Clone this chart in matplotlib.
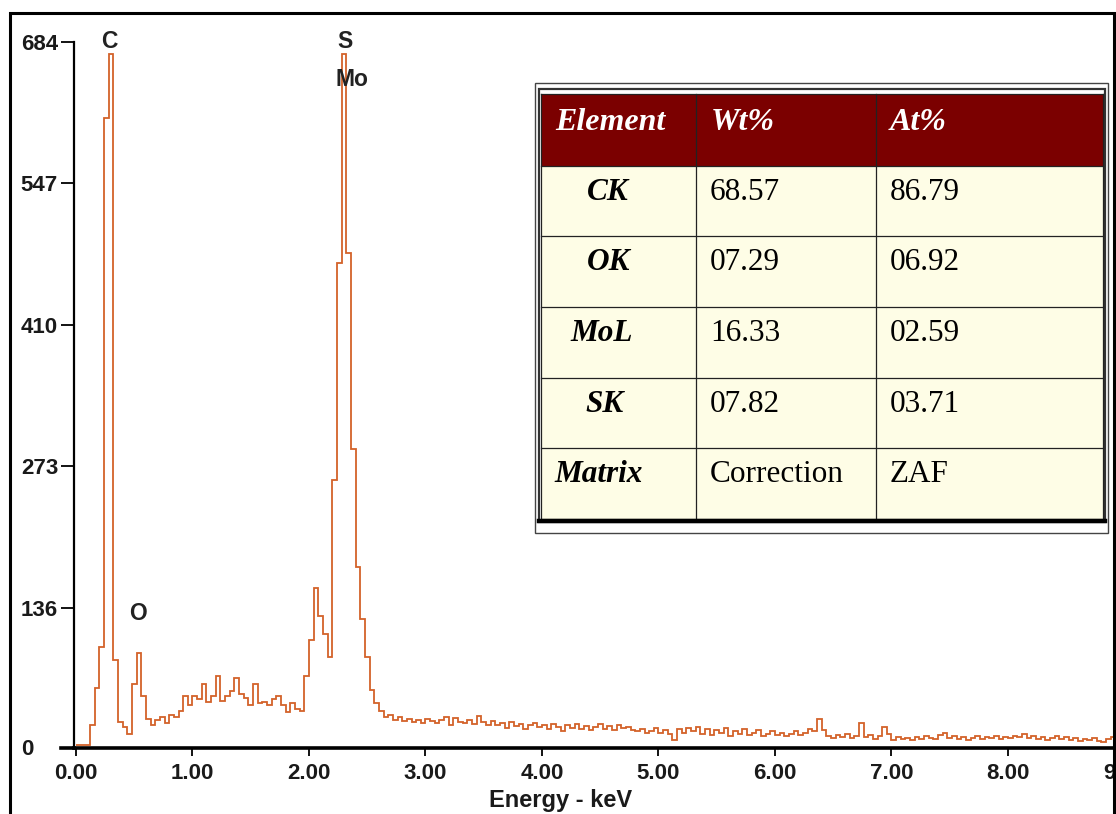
import matplotlib
matplotlib.use("Agg")
from matplotlib import pyplot as plt
from matplotlib.patches import Rectangle
from matplotlib.lines import Line2D
import numpy as np

# EDS spectrum, counts per 0.04 keV channel
channel_kev = 0.04
counts = [
    3, 3, 3, 22, 58, 98, 610, 672, 85, 25,            # 0.00 - 0.36
    20, 14, 62, 92, 50, 28, 22, 27, 30, 24,           # 0.40 - 0.76
    32, 30, 36, 50, 42, 50, 47, 62, 45, 50,           # 0.80 - 1.16
    70, 46, 50, 55, 68, 52, 48, 42, 62, 44,           # 1.20 - 1.56
    45, 42, 47, 50, 42, 35, 44, 38, 36, 70,           # 1.60 - 1.96
    105, 155, 128, 110, 88, 260, 470, 672, 480, 290,  # 2.00 - 2.36
    175, 125, 88, 56, 44, 36, 30, 32, 27, 30,         # 2.40 - 2.76
    26, 28, 25, 27, 24, 28, 26, 24, 27, 30,           # 2.80 - 3.16
    22, 29, 25, 24, 27, 23, 31, 25, 22, 26,           # 3.20 - 3.56
    22, 24, 19, 25, 21, 23, 18, 22, 24, 20,           # 3.60 - 3.96
    22, 18, 23, 20, 16, 22, 19, 23, 18, 21,           # 4.00 - 4.36
    17, 20, 23, 18, 21, 17, 22, 19, 20, 17,           # 4.40 - 4.76
    16, 18, 15, 16, 19, 15, 17, 14, 8, 18,            # 4.80 - 5.16
    15, 19, 16, 20, 14, 18, 13, 17, 15, 19,           # 5.20 - 5.56
    12, 16, 14, 18, 13, 15, 17, 12, 14, 16,           # 5.60 - 5.96
    13, 15, 12, 14, 16, 13, 15, 18, 16, 28,           # 6.00 - 6.36
    17, 12, 10, 13, 11, 14, 10, 12, 24, 11,           # 6.40 - 6.76
    13, 9, 12, 20, 14, 8, 11, 9, 10, 8,               # 6.80 - 7.16
    11, 9, 12, 10, 9, 13, 15, 10, 12, 9,              # 7.20 - 7.56
    11, 8, 10, 12, 9, 11, 10, 12, 9, 11,              # 7.60 - 7.96
    10, 12, 11, 14, 10, 12, 9, 11, 8, 10,             # 8.00 - 8.36
    12, 9, 11, 8, 10, 7, 9, 8, 10, 7,                 # 8.40 - 8.76
    6, 9, 11, 8,                                      # 8.80 - 8.92
]

y_ticks = [136, 273, 410, 547, 684]
x_ticks = [0, 1, 2, 3, 4, 5, 6, 7, 8]

peak_labels = ["C", "O", "S", "Mo"]
peak_kev = [0.29, 0.53, 2.31, 2.37]
peak_y = [684, 130, 684, 648]

# table content
col_labels = ["Element", "Wt%", "At%"]
elements = ["CK", "OK", "MoL", "SK", "Matrix"]
wt_pct = ["68.57", "07.29", "16.33", "07.82", "Correction"]
at_pct = ["86.79", "06.92", "02.59", "03.71", "ZAF"]

W, H = 1116, 814
line_col = "#D3622A"


def fx(x):
    return x / W


def fy(y):
    return 1 - y / H


fig = plt.figure(figsize=(W / 100, H / 100), dpi=100)
ax = fig.add_axes([fx(74), fy(748), 1040 / W, 706 / H])

edges = np.arange(len(counts) + 1) * channel_kev
ax.stairs(counts, edges, color=line_col, lw=1.3, baseline=None)

ax.set_xlim(-0.017, 8.91)
ax.set_ylim(0, 684)
for s in ["top", "right"]:
    ax.spines[s].set_visible(False)
ax.spines["left"].set_linewidth(1.6)
ax.spines["bottom"].set_linewidth(2.6)

tick_font = dict(family="Liberation Sans", weight="bold", size=16, color="#1a1a1a")
ax.set_yticks([0] + y_ticks)
ax.set_yticklabels([""] + [str(v) for v in y_ticks], **tick_font)
ax.tick_params(axis="y", direction="out", length=9.5, width=1.3, pad=2)
ax.set_xticks(x_ticks)
ax.set_xticklabels(["%.2f" % v for v in x_ticks], **tick_font)
ax.tick_params(axis="x", direction="out", length=5.5, width=1.3, pad=5)

# y = 0 tick line carries the axis thickness, and its label sits further left
ax.plot([-0.13, -0.017], [0, 0], color="k", lw=2.6, clip_on=False)
ax.annotate("0", xy=(0, 0), xycoords=("axes fraction", "data"),
            xytext=(-29, -1), textcoords="offset points",
            ha="right", va="center", **tick_font)
# the 9.00 label runs off the right edge of the picture, as in the original
ax.annotate("9.00", xy=(9, 0), xycoords=("data", "axes fraction"),
            xytext=(0, -10.5), textcoords="offset points",
            ha="center", va="top", annotation_clip=False, **tick_font)

fig.text(fx(561), fy(801), "Energy - keV", ha="center", va="center",
         family="Liberation Sans", weight="bold", size=17, color="#1a1a1a")

for lab, xk, yk in zip(peak_labels, peak_kev, peak_y):
    ax.text(xk, yk, lab, ha="center", va="center", family="Liberation Sans",
            weight="bold", size=16.5, color="#222222", clip_on=False)

# outer frame of the picture
fig.add_artist(Rectangle((fx(10), fy(830)), 1104 / W, 817 / H,
                         transform=fig.transFigure, fill=False,
                         ec="k", lw=2.2, zorder=6))

# table ---------------------------------------------------------------
tl, tr = 541, 1103
col_x = [541, 696, 876, 1103]
row_y = [94, 166, 236, 307, 378, 448, 519]


def rect(x0, y0, x1, y1, **kw):
    fig.add_artist(Rectangle((fx(x0), fy(y1)), (x1 - x0) / W, (y1 - y0) / H,
                             transform=fig.transFigure, zorder=5, **kw))


def hline(x0, x1, y, **kw):
    fig.add_artist(Line2D([fx(x0), fx(x1)], [fy(y), fy(y)],
                          transform=fig.transFigure, zorder=7, **kw))


def vline(x, y0, y1, **kw):
    fig.add_artist(Line2D([fx(x), fx(x)], [fy(y0), fy(y1)],
                          transform=fig.transFigure, zorder=7, **kw))


rect(535, 83, 1108, 533, fc="white", ec="#444444", lw=1.0)
rect(539, 89, 1105, 522, fc="white", ec="#333333", lw=1.6)
rect(tl, row_y[0], tr, row_y[1], fc="#7B0000", ec="none")
rect(tl, row_y[1], tr, row_y[-1], fc="#FEFDE6", ec="none")
for y in row_y:
    hline(tl, tr, y, color="#222222", lw=0.9)
for x in col_x:
    vline(x, row_y[0], row_y[-1], color="#222222", lw=0.9)
hline(539, 1105, 521, color="black", lw=3.2)

serif = "Liberation Serif"
for lab, x in zip(col_labels, [555, 711, 890]):
    fig.text(fx(x), fy(130), lab, ha="left", va="baseline", family=serif,
             style="italic", weight="bold", size=23, color="white", zorder=8)

elem_x = [608, 609, 602, 605]
for i, (el, wv, av) in enumerate(zip(elements, wt_pct, at_pct)):
    base = row_y[i + 1] + 34
    if i < len(elem_x):
        fig.text(fx(elem_x[i]), fy(base), el, ha="center", va="baseline",
                 family=serif, style="italic", weight="bold", size=22.5,
                 color="black", zorder=8)
    else:
        fig.text(fx(554), fy(base), el, ha="left", va="baseline",
                 family=serif, style="italic", weight="bold", size=22.5,
                 color="black", zorder=8)
    fig.text(fx(710), fy(base), wv, ha="left", va="baseline", family=serif,
             size=22.5, color="black", zorder=8)
    fig.text(fx(890), fy(base), av, ha="left", va="baseline", family=serif,
             size=22.5, color="black", zorder=8)

fig.savefig("out.png", dpi=100)
